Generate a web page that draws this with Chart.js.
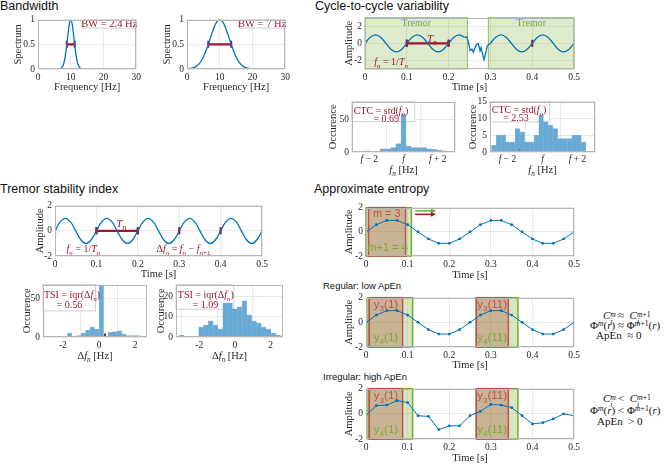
<!DOCTYPE html>
<html>
<head>
<meta charset="utf-8">
<script src="https://cdn.jsdelivr.net/npm/chart.js@4.4.1/dist/chart.umd.min.js"></script>
<style>
  body { margin: 0; width: 669px; height: 464px; position: relative; background: #fff; overflow: hidden; }
  .ttl { position: absolute; font-family: "Liberation Sans", Arial, sans-serif; font-size: 12.5px; line-height: 14px; color: #111; white-space: nowrap; }
  .sub { font-size: 9.5px; }
  .eq { position: absolute; font-family: "Liberation Serif", "DejaVu Serif", serif; font-size: 11px; line-height: 11px; height: 11px; color: #111; white-space: nowrap; }
  .up { position: relative; top: -0.45em; font-size: 0.7em; line-height: 0; }
  .ss { display: inline-block; position: relative; width: 1.6em; height: 11px; font-size: 0.7em; line-height: 0; vertical-align: top; }
  .ss .t { position: absolute; left: 0; top: 1px; line-height: 1; }
  .ss .b { position: absolute; left: 0; top: 8px; line-height: 1; }
</style>
</head>
<body>

<div class="ttl" style="left:0;top:-1px">Bandwidth</div>
<div class="ttl" style="left:315px;top:-1px">Cycle-to-cycle variability</div>
<div class="ttl" style="left:0;top:182px">Tremor stability index</div>
<div class="ttl" style="left:314px;top:182px">Approximate entropy</div>
<div class="ttl sub" style="left:323px;top:279px">Regular: low ApEn</div>
<div class="ttl sub" style="left:323px;top:370px">Irregular: high ApEn</div>

<div class="eq" style="left:603px;top:310px"><i>C</i><span class="ss" style="width:1em"><span class="t"><i>m</i></span><span class="b"><i>i</i></span></span>≈&nbsp; <i>C</i><span class="ss"><span class="t"><i>m</i>+1</span><span class="b"><i>i</i></span></span></div>
<div class="eq" style="left:590px;top:320px">Φ<span class="up"><i>m</i></span>(<i>r</i>) ≈ Φ<span class="up"><i>m</i>+1</span>(<i>r</i>)</div>
<div class="eq" style="left:596px;top:330px">ApEn &nbsp;≈ 0</div>

<div class="eq" style="left:603px;top:393px"><i>C</i><span class="ss" style="width:1em"><span class="t"><i>m</i></span><span class="b"><i>i</i></span></span>&lt;&nbsp; <i>C</i><span class="ss"><span class="t"><i>m</i>+1</span><span class="b"><i>i</i></span></span></div>
<div class="eq" style="left:590px;top:405px">Φ<span class="up"><i>m</i></span>(<i>r</i>) &lt; Φ<span class="up"><i>m</i>+1</span>(<i>r</i>)</div>
<div class="eq" style="left:597px;top:416px">ApEn &nbsp;&gt; 0</div>

<script>
// ---------------- data ----------------
// Bandwidth spectra
const bwFreqNarrow = [0, 5, 6, 6.5, 7, 7.5, 8, 8.5, 9, 9.5, 10, 10.5, 11, 11.5, 12, 12.5, 13, 13.5, 14, 15, 30];
const bwSpecNarrow = [0, 0, 0.0005, 0.003, 0.013, 0.05, 0.146, 0.339, 0.618, 0.887, 1, 0.887, 0.618, 0.339, 0.146, 0.05, 0.013, 0.003, 0.0005, 0, 0];
const bwFreqWide = [0, 1, 2, 3, 4, 5, 6, 7, 8, 9, 10, 11, 12, 13, 14, 15, 16, 17, 18, 19, 20, 21, 22, 30];
const bwSpecWide = [0.004, 0.01, 0.027, 0.062, 0.13, 0.243, 0.404, 0.601, 0.797, 0.945, 1, 0.945, 0.797, 0.601, 0.404, 0.243, 0.13, 0.062, 0.027, 0.01, 0.004, 0.001, 0, 0];
const bwBarNarrow = [8.8, 11.2];
const bwBarWide = [6.5, 13.5];

// tremor signal (10 Hz)
const sineT = [0, 0.0125, 0.025, 0.0375, 0.05, 0.0625, 0.075, 0.0875, 0.1, 0.1125, 0.125, 0.1375, 0.15, 0.1625,
  0.175, 0.1875, 0.2, 0.2125, 0.225, 0.2375, 0.25, 0.2625, 0.275, 0.2875, 0.3, 0.3125, 0.325, 0.3375, 0.35,
  0.3625, 0.375, 0.3875, 0.4, 0.4125, 0.425, 0.4375, 0.45, 0.4625, 0.475, 0.4875, 0.5];
const sineY = [0, 0.71, 1, 0.71, 0, -0.71, -1, -0.71, 0, 0.71, 1, 0.71, 0, -0.71, -1, -0.71, 0, 0.71, 1, 0.71,
  0, -0.71, -1, -0.71, 0, 0.71, 1, 0.71, 0, -0.71, -1, -0.71, 0, 0.71, 1, 0.71, 0, -0.71, -1, -0.71, 0];

// non-tremor burst in the cycle-to-cycle example
const burstT = [0.2375, 0.2437, 0.2476, 0.2516, 0.2555, 0.2594, 0.2634, 0.2673, 0.2712, 0.2752, 0.2775, 0.2807, 0.2846, 0.2885, 0.2925, 0.3];
const burstY = [0.71, 0.75, 0.07, -0.85, -0.67, -1.04, -0.5, -0.1, -0.04, -0.85, -0.5, -1.15, -1.9, -1.2, -0.3, 0];
const tremorSpans = [[0, 0.245], [0.295, 0.5]];
const ctcMarks = [0, 0.1, 0.2, 0.4];
const tsiMarks = [0, 0.1, 0.2, 0.3, 0.4];
const periodBar = [0.1, 0.2];

// histograms
const ctcBinsA = [-2.7, -2.4, -2.1, -1.8, -1.5, -1.2, -0.9, -0.6, -0.3, 0, 0.3, 0.6, 0.9, 1.2, 1.5, 1.8, 2.1, 2.4];
const ctcCountA = [1, 1, 2, 1, 1, 5, 5, 7, 13, 58, 9, 7, 7, 7, 5, 4, 3, 2];
const ctcStdA = [-0.4, 0.29];
const ctcBinsB = [-2.78, -2.51, -2.24, -1.97, -1.7, -1.43, -1.16, -0.89, -0.62, -0.35, -0.08, 0.19, 0.46, 0.73, 1, 1.27, 1.54, 1.81, 2.08, 2.35];
const ctcCountB = [2, 5, 5, 3, 3, 7, 6, 3, 3, 5, 11, 9, 8, 7, 4, 4, 4, 5, 5, 3];
const ctcStdB = [-1.27, 1.26];

const tsiBinsA = [-2.375, -2.125, -1.875, -1.625, -1.375, -1.125, -0.875, -0.625, -0.375, -0.125, 0.125, 0.375, 0.625, 0.875, 1.125, 1.375, 1.625, 1.875, 2.125, 2.375];
const tsiCountA = [0, 1, 0, 5, 0, 2, 5, 9, 13, 10, 68, 1, 6, 7, 8, 4, 2, 2, 2, 1];
const tsiIqrA = [-0.33, 0.33];
const tsiBinsB = [-2.975, -2.705, -2.435, -2.165, -1.895, -1.625, -1.355, -1.085, -0.815, -0.545, -0.275, -0.005, 0.265, 0.535, 0.805, 1.075, 1.345, 1.615, 1.885, 2.155, 2.425];
const tsiCountB = [1, 0, 0, 0, 5, 6, 8, 6, 4, 17, 17, 14, 15, 18, 11, 8, 7, 5, 4, 2, 1];
const tsiIqrB = [-0.6, 0.5];

// approximate entropy signals (sampled every 25 ms)
const apT = [0, 0.025, 0.05, 0.075, 0.1, 0.125, 0.15, 0.175, 0.2, 0.225, 0.25, 0.275, 0.3, 0.325, 0.35, 0.375, 0.4, 0.425, 0.45, 0.475, 0.5];
const apRegular = [0, 0.59, 0.95, 0.95, 0.59, 0, -0.59, -0.95, -0.95, -0.59, 0, 0.59, 0.95, 0.95, 0.59, 0, -0.59, -0.95, -0.95, -0.59, 0];
const apIrregular = [-0.1, 0.65, 0.7, 1.05, 0.9, -0.15, -0.2, -1.25, -0.95, -0.95, -0.15, 0.2, 0.75, 0.7, 0.5, -0.15, -0.8, -0.7, -0.4, 0, -0.15];

// ---------------- style ----------------
const BLUE = 'rgb(0,114,189)';
const BARS = 'rgb(102,170,215)';
const CRIMSON = 'rgb(162,20,47)';
const GREEN = 'rgb(119,172,48)';
const BOXRED = 'rgb(192,80,77)';
const SERIF = '"Liberation Serif", "DejaVu Serif", serif';
const SANS = '"Liberation Sans", Arial, sans-serif';
const TXT = '#262626';

Chart.defaults.font.family = SERIF;
Chart.defaults.color = TXT;

const pts = (xs, ys) => xs.map((x, i) => ({ x, y: ys[i] }));
const flat = (xs, v) => xs.map(x => ({ x, y: v }));

// tiny math-ish text: *..* toggles italic, _{..} subscript, ^{..} superscript
function parseRich(s, sh, st) {
  const runs = [];
  let buf = '';
  const flush = () => { if (buf) { runs.push({ t: buf, it: st.it, sh }); buf = ''; } };
  for (let i = 0; i < s.length; i++) {
    const c = s[i];
    if (c === '*') { flush(); st.it = !st.it; }
    else if ((c === '_' || c === '^') && s[i + 1] === '{') {
      flush();
      let d = 0, j = i + 1;
      for (; j < s.length; j++) {
        if (s[j] === '{') d++;
        else if (s[j] === '}') { d--; if (!d) break; }
      }
      runs.push(...parseRich(s.slice(i + 2, j), c === '_' ? 1 : -1, st));
      i = j;
    } else buf += c;
  }
  flush();
  return runs;
}

function drawRich(ctx, s, x, y, o) {
  const size = o.size || 10, fam = o.family || SERIF;
  const runs = parseRich(s, 0, { it: false });
  const font = r => `${r.it ? 'italic ' : ''}${r.sh ? size * 0.7 : size}px ${fam}`;
  let w = 0;
  runs.forEach(r => { ctx.font = font(r); r.w = ctx.measureText(r.t).width; w += r.w; });
  let cx = o.align === 'center' ? x - w / 2 : o.align === 'right' ? x - w : x;
  ctx.save();
  ctx.fillStyle = o.color || TXT;
  ctx.textAlign = 'left';
  ctx.textBaseline = 'alphabetic';
  const base = y + size * 0.33;
  runs.forEach(r => {
    ctx.font = font(r);
    ctx.fillText(r.t, cx, base + (r.sh > 0 ? size * 0.28 : r.sh < 0 ? -size * 0.4 : 0));
    cx += r.w;
  });
  ctx.restore();
}

// boxes, labels, arrows, axis frame and titles
const figPlugin = {
  id: 'fig',
  beforeDatasetsDraw(chart) {
    const f = chart.canvas._fig, { ctx, scales: { x, y } } = chart;
    ctx.save();
    (f.rects || []).forEach(r => {
      const x0 = x.getPixelForValue(r.x[0]), x1 = x.getPixelForValue(r.x[1]);
      const y0 = y.getPixelForValue(r.y[1]), y1 = y.getPixelForValue(r.y[0]);
      if (r.fill) { ctx.fillStyle = r.fill; ctx.fillRect(x0, y0, x1 - x0, y1 - y0); }
      if (r.stroke) { ctx.strokeStyle = r.stroke; ctx.lineWidth = r.lw || 1; ctx.strokeRect(x0, y0, x1 - x0, y1 - y0); }
    });
    ctx.restore();
  },
  afterDatasetsDraw(chart) {
    const f = chart.canvas._fig, { ctx, scales: { x, y } } = chart;
    ctx.save();
    (f.arrows || []).forEach(a => {
      const x0 = x.getPixelForValue(a.x[0]), x1 = x.getPixelForValue(a.x[1]), py = y.getPixelForValue(a.y);
      ctx.strokeStyle = a.c; ctx.fillStyle = a.c; ctx.lineWidth = 1.5;
      ctx.beginPath(); ctx.moveTo(x0, py); ctx.lineTo(x1 - 4, py); ctx.stroke();
      ctx.beginPath(); ctx.moveTo(x1, py); ctx.lineTo(x1 - 5, py - 2.5); ctx.lineTo(x1 - 5, py + 2.5); ctx.closePath(); ctx.fill();
    });
    ctx.restore();
    (f.texts || []).forEach(t => drawRich(ctx, t.s, x.getPixelForValue(t.x), y.getPixelForValue(t.y), t));
  },
  afterDraw(chart) {
    const f = chart.canvas._fig, { ctx, chartArea: a, scales: { x } } = chart;
    ctx.save();
    ctx.strokeStyle = '#b5b5b5';
    ctx.lineWidth = 1;
    ctx.strokeRect(Math.round(a.left) + 0.5, Math.round(a.top) + 0.5, Math.round(a.width) - 1, Math.round(a.height) - 1);
    ctx.restore();
    if (f.yTitle) {
      ctx.save();
      ctx.translate(a.left + f.yTitle.dx, (a.top + a.bottom) / 2);
      ctx.rotate(-Math.PI / 2);
      drawRich(ctx, f.yTitle.s, 0, 0, { size: 10.5, align: 'center' });
      ctx.restore();
    }
    if (f.xTitle) drawRich(ctx, f.xTitle.s, (a.left + a.right) / 2, a.bottom + f.xTitle.dy, { size: 10.5, align: 'center' });
    (f.xTicks || []).forEach(t => drawRich(ctx, t.s, x.getPixelForValue(t.v), a.bottom + 7, { size: 9.5, align: 'center' }));
  }
};

function axis(spec, fit) {
  return {
    type: 'linear', min: spec.min, max: spec.max, offset: false,
    afterBuildTicks: s => { s.ticks = spec.ticks.map(v => ({ value: v })); },
    afterFit: fit,
    grid: { color: 'rgba(0,0,0,0.085)', drawTicks: false },
    border: { display: false },
    ticks: { display: !spec.hide, padding: 3, color: TXT, font: { family: SERIF, size: 9.5 },
      autoSkip: false, maxRotation: 0, callback: v => String(v) }
  };
}

function makeChart(area, pad, xs, ys, datasets, fig) {
  const [L, T, R, B] = area;
  const W = R - L + pad.l + 6, H = B - T + 6 + pad.b;
  const cv = document.createElement('canvas');
  cv.width = W; cv.height = H;
  cv.style.cssText = `position:absolute;left:${L - pad.l}px;top:${T - 6}px;width:${W}px;height:${H}px`;
  cv._fig = fig;
  document.body.appendChild(cv);
  return new Chart(cv, {
    type: 'line',
    data: { datasets },
    options: {
      responsive: false, animation: false, devicePixelRatio: 1,
      layout: { padding: { left: 0, top: 6, right: 6, bottom: 0 } },
      plugins: { legend: { display: false }, tooltip: { enabled: false } },
      scales: {
        x: axis(xs, s => { s.height = pad.b; }),
        y: axis(ys, s => { s.width = pad.l; })
      }
    },
    plugins: [figPlugin]
  });
}

// reusable dataset builders
const curve = (data, extra) => Object.assign({ data, borderColor: BLUE, borderWidth: 1.3, pointRadius: 0, tension: 0.4 }, extra);
const redBar = xs => ({ data: flat(xs, 0), borderColor: CRIMSON, borderWidth: 2.2, pointStyle: 'line', pointRotation: 90,
  pointRadius: 3.5, pointBorderWidth: 2, pointBorderColor: CRIMSON, tension: 0 });
const redBarAt = (xs, v) => Object.assign(redBar(xs), { data: flat(xs, v) });
const marks = xs => ({ data: flat(xs, 0), showLine: false, pointStyle: 'line', pointRotation: 90,
  pointRadius: 3.5, pointBorderWidth: 2.2, pointBorderColor: CRIMSON });
const hist = (bins, counts) => ({ type: 'bar', data: pts(bins, counts), backgroundColor: BARS,
  borderColor: 'rgba(30,90,150,0.4)', borderWidth: 0.6, barPercentage: 1, categoryPercentage: 1 });
const noteBox = (xr, yr) => ({ x: xr, y: yr, fill: '#fff', stroke: '#d0d0d0' });
const freqTicks = [{ v: -2, s: '*f* − 2' }, { v: 0, s: '*f*' }, { v: 2, s: '*f* + 2' }];

// ---------------- Bandwidth ----------------
makeChart([38, 17, 138, 69], { l: 38, b: 26 },
  { min: 0, max: 30, ticks: [0, 10, 20, 30] }, { min: 0, max: 1, ticks: [0, 0.5, 1] },
  [curve(pts(bwFreqNarrow, bwSpecNarrow), { cubicInterpolationMode: 'monotone' }), redBarAt(bwBarNarrow, 0.5)],
  { rects: [noteBox([13.5, 30], [0.83, 1])],
    texts: [{ s: 'BW = 2.4 Hz', x: 21.75, y: 0.915, align: 'center', color: CRIMSON, size: 10.5 }],
    yTitle: { s: 'Spectrum', dx: -20 }, xTitle: { s: 'Frequency [Hz]', dy: 18 } });

makeChart([187, 17, 287, 69], { l: 38, b: 26 },
  { min: 0, max: 30, ticks: [0, 10, 20, 30] }, { min: 0, max: 1, ticks: [0, 0.5, 1] },
  [curve(pts(bwFreqWide, bwSpecWide), { cubicInterpolationMode: 'monotone' }), redBarAt(bwBarWide, 0.5)],
  { rects: [noteBox([15.9, 30], [0.83, 1])],
    texts: [{ s: 'BW = 7 Hz', x: 22.95, y: 0.915, align: 'center', color: CRIMSON, size: 10.5 }],
    yTitle: { s: 'Spectrum', dx: -20 }, xTitle: { s: 'Frequency [Hz]', dy: 18 } });

// ---------------- Cycle-to-cycle variability ----------------
makeChart([365, 15, 577, 69], { l: 30, b: 26 },
  { min: 0, max: 0.5, ticks: [0, 0.1, 0.2, 0.3, 0.4, 0.5] }, { min: -3, max: 3, ticks: [-2, 0, 2] },
  [curve(pts(sineT.slice(0, 20), sineY.slice(0, 20))),
   curve(pts(burstT, burstY), { tension: 0 }),
   curve(pts(sineT.slice(24), sineY.slice(24))),
   redBar(periodBar), marks(ctcMarks)],
  { rects: tremorSpans.map(s => ({ x: s, y: [-3, 3], fill: 'rgba(119,172,48,0.25)', stroke: 'rgba(119,172,48,0.75)' })),
    texts: [
      { s: 'Tremor', x: (tremorSpans[0][0] + tremorSpans[0][1]) / 2, y: 2.4, align: 'center', color: GREEN, size: 10 },
      { s: 'Tremor', x: (tremorSpans[1][0] + tremorSpans[1][1]) / 2, y: 2.4, align: 'center', color: GREEN, size: 10 },
      { s: '*T*_{*n*}', x: 0.16, y: 0.55, align: 'center', color: CRIMSON, size: 11 },
      { s: '*f*_{*n*} = 1/*T*_{*n*}', x: 0.022, y: -2.15, color: CRIMSON, size: 10 }],
    yTitle: { s: 'Amplitude', dx: -16 }, xTitle: { s: 'Time [s]', dy: 18 } });

makeChart([352, 99, 455, 152], { l: 25, b: 26 },
  { min: -3, max: 3, ticks: [-2, 0, 2], hide: true }, { min: 0, max: 78, ticks: [0, 50] },
  [hist(ctcBinsA, ctcCountA), redBar(ctcStdA)],
  { rects: [noteBox([-3, 0.65], [47, 78])],
    texts: [{ s: 'CTC = std(*f*_{*n*})', x: -2.9, y: 64.7, color: CRIMSON, size: 10 },
            { s: '= 0.69', x: -1.75, y: 51, color: CRIMSON, size: 10 }],
    xTicks: freqTicks,
    yTitle: { s: 'Occurence', dx: -19 }, xTitle: { s: '*f*_{*n*} [Hz]', dy: 18 } });

makeChart([490, 99, 595, 152], { l: 25, b: 26 },
  { min: -3, max: 3, ticks: [-2, 0, 2], hide: true }, { min: 0, max: 15, ticks: [0, 5, 10, 15] },
  [hist(ctcBinsB, ctcCountB), redBar(ctcStdB)],
  { rects: [noteBox([-3, 0.41], [9, 15])],
    texts: [{ s: 'CTC = std(*f*_{*n*})', x: -2.9, y: 12.5, color: CRIMSON, size: 10 },
            { s: '= 2.53', x: -2.25, y: 10.1, color: CRIMSON, size: 10 }],
    xTicks: freqTicks,
    yTitle: { s: 'Occurence', dx: -17 }, xTitle: { s: '*f*_{*n*} [Hz]', dy: 18 } });

// ---------------- Tremor stability index ----------------
makeChart([55, 203, 265, 256], { l: 30, b: 26 },
  { min: 0, max: 0.5, ticks: [0, 0.1, 0.2, 0.3, 0.4, 0.5] }, { min: -2, max: 2, ticks: [-2, 0, 2] },
  [curve(pts(sineT, sineY)), redBar(periodBar), marks(tsiMarks)],
  { texts: [
      { s: '*T*_{*n*}', x: 0.16, y: 0.6, align: 'center', color: CRIMSON, size: 11 },
      { s: '*f*_{*n*} = 1/*T*_{*n*}', x: 0.028, y: -1.45, color: CRIMSON, size: 10 },
      { s: 'Δ*f*_{*n*} = *f*_{*n*} − *f*_{*n*+1}', x: 0.245, y: -1.45, color: CRIMSON, size: 10 }],
    yTitle: { s: 'Amplitude', dx: -15 }, xTitle: { s: 'Time [s]', dy: 18 } });

makeChart([43, 282, 147, 337], { l: 25, b: 26 },
  { min: -3.1, max: 2.65, ticks: [-2, 0, 2] }, { min: 0, max: 68, ticks: [0, 50] },
  [hist(tsiBinsA, tsiCountA), redBar(tsiIqrA)],
  { rects: [noteBox([-3.1, -0.2], [34, 68])],
    texts: [{ s: 'TSI = iqr(Δ*f*_{*n*})', x: -3.05, y: 55, color: CRIMSON, size: 10 },
            { s: '= 0.56', x: -2.35, y: 42.5, color: CRIMSON, size: 10 }],
    yTitle: { s: 'Occurence', dx: -16 }, xTitle: { s: 'Δ*f*_{*n*} [Hz]', dy: 19 } });

makeChart([176, 282, 283, 337], { l: 25, b: 26 },
  { min: -3.3, max: 2.7, ticks: [-2, 0, 2] }, { min: 0, max: 26, ticks: [0, 10, 20] },
  [hist(tsiBinsB, tsiCountB), redBar(tsiIqrB)],
  { rects: [noteBox([-3.3, -0.06], [13.8, 26])],
    texts: [{ s: 'TSI = iqr(Δ*f*_{*n*})', x: -3.2, y: 21, color: CRIMSON, size: 10 },
            { s: '= 1.09', x: -2.37, y: 16.2, color: CRIMSON, size: 10 }],
    yTitle: { s: 'Occurence', dx: -15 }, xTitle: { s: 'Δ*f*_{*n*} [Hz]', dy: 19 } });

// ---------------- Approximate entropy ----------------
const apLine = ys => ({ data: pts(apT, ys), borderColor: BLUE, borderWidth: 1, pointRadius: 1.4,
  pointBackgroundColor: BLUE, pointBorderWidth: 0, tension: 0 });
const greenWin = xr => ({ x: xr, y: [-2, 2], fill: 'rgba(119,172,48,0.3)', stroke: GREEN, lw: 1.5 });
const redWin = xr => ({ x: xr, y: [-2, 2], fill: 'rgba(170,70,55,0.32)', stroke: BOXRED, lw: 1.5 });
const apX = { min: 0, max: 0.5, ticks: [0, 0.1, 0.2, 0.3, 0.4, 0.5] };
const apY = { min: -2, max: 2, ticks: [-2, 0, 2] };
const winLabels = (x, n) => [
  { s: 'y_{3}(' + n + ')', x, y: 1.45, align: 'center', color: BOXRED, size: 11.5, family: SANS },
  { s: 'y_{4}(' + n + ')', x, y: -1.2, align: 'center', color: GREEN, size: 11.5, family: SANS }];

makeChart([366, 205, 577, 256], { l: 30, b: 26 }, apX, apY,
  [apLine(apRegular)],
  { rects: [greenWin([0, 0.109]), redWin([0.006, 0.095])],
    texts: [{ s: 'm = 3', x: 0.05, y: 1.5, align: 'center', color: BOXRED, size: 11, family: SANS },
            { s: 'm+1 = 4', x: 0.052, y: -1.3, align: 'center', color: GREEN, size: 11, family: SANS }],
    arrows: [{ x: [0.118, 0.168], y: 1.74, c: GREEN }, { x: [0.118, 0.168], y: 1.45, c: CRIMSON }],
    yTitle: { s: 'Amplitude', dx: -17 }, xTitle: { s: 'Time [s]', dy: 19 } });

makeChart([366, 295, 577, 347], { l: 30, b: 26 }, apX, apY,
  [apLine(apRegular)],
  { rects: [greenWin([0.005, 0.112]), redWin([0.008, 0.088]), greenWin([0.265, 0.365]), redWin([0.265, 0.342])],
    texts: winLabels(0.048, 1).concat(winLabels(0.303, 11)),
    yTitle: { s: 'Amplitude', dx: -17 }, xTitle: { s: 'Time [s]', dy: 18 } });

makeChart([366, 386, 577, 439], { l: 30, b: 26 }, apX, apY,
  [apLine(apIrregular)],
  { rects: [greenWin([0.005, 0.112]), redWin([0.008, 0.088]), greenWin([0.265, 0.365]), redWin([0.265, 0.342])],
    texts: winLabels(0.048, 1).concat(winLabels(0.303, 11)),
    yTitle: { s: 'Amplitude', dx: -17 }, xTitle: { s: 'Time [s]', dy: 19 } });
</script>
</body>
</html>
